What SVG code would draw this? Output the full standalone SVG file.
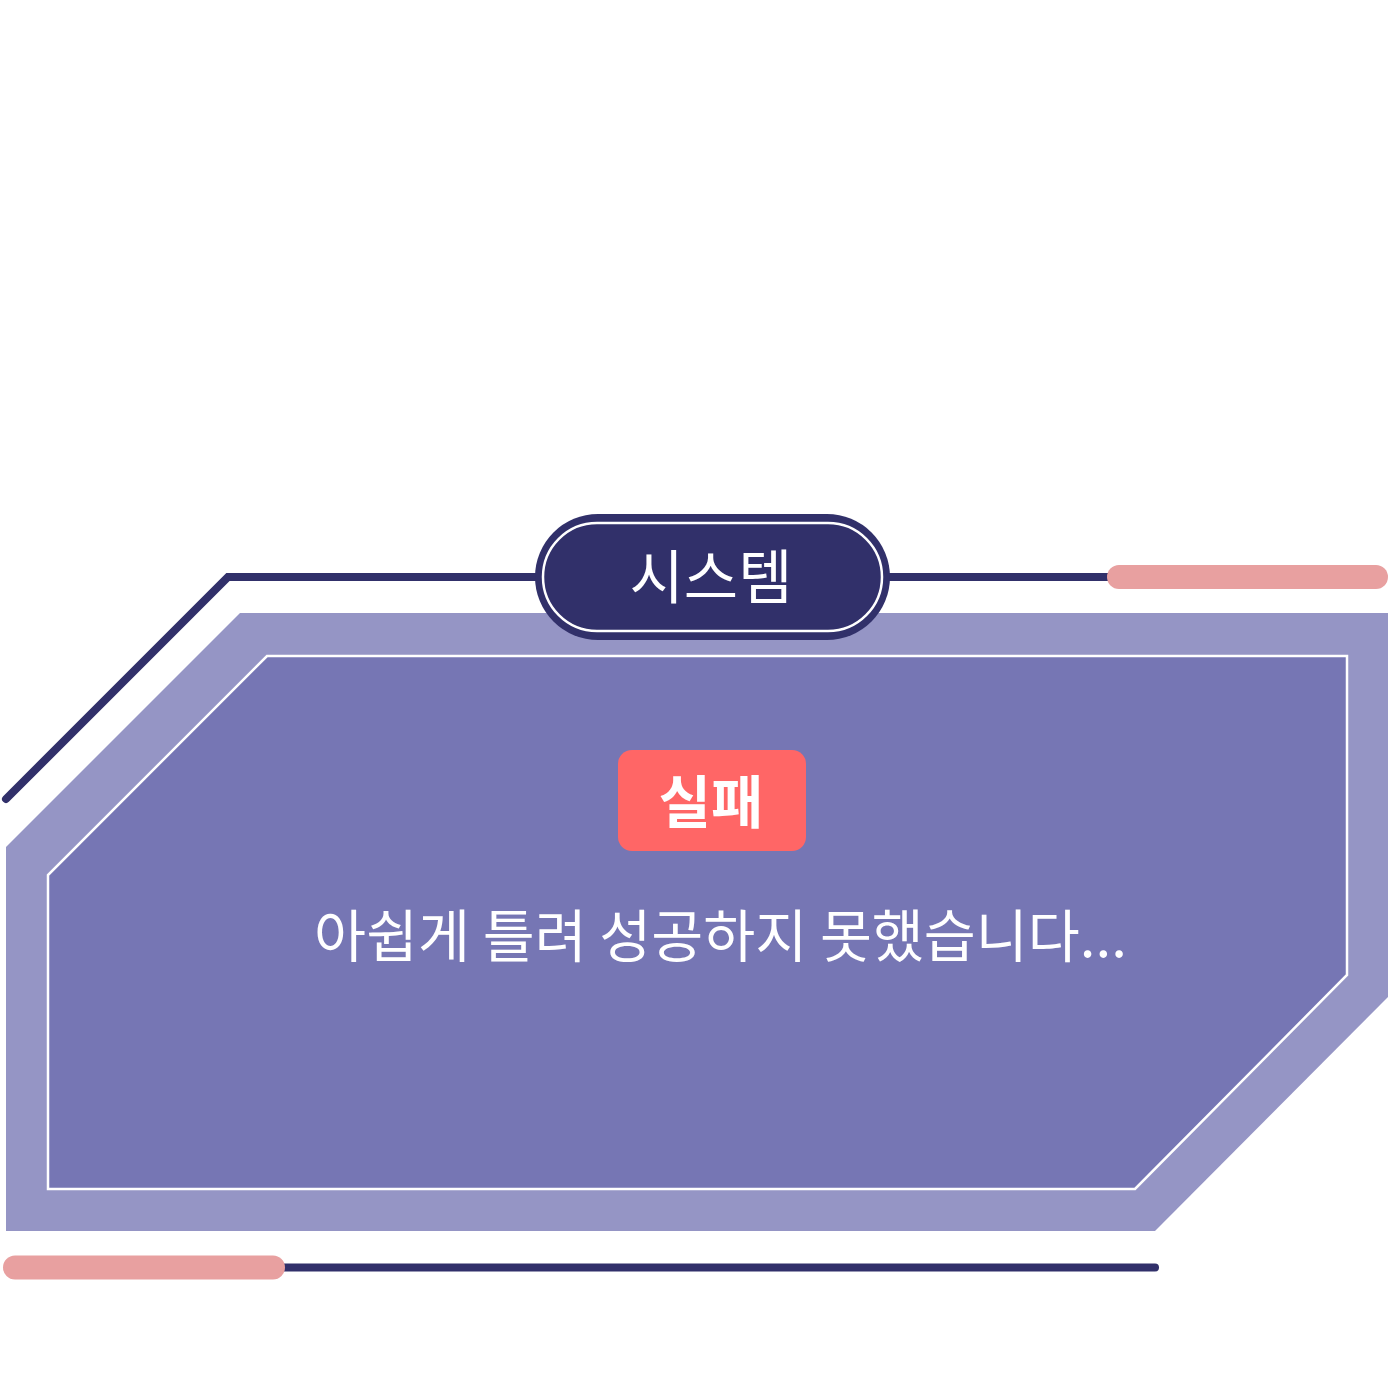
<svg xmlns="http://www.w3.org/2000/svg" width="1388" height="1377" viewBox="0 0 1388 1377">
<style>
.dark{stroke:#31306a;stroke-width:8;fill:none;stroke-linecap:round;stroke-linejoin:miter}
.pink{stroke:#e8a0a0;stroke-width:24;stroke-linecap:round;fill:none}
.txt{font-family:"Noto Sans CJK KR","Noto Sans",sans-serif;fill:#ffffff;text-anchor:middle;dominant-baseline:central}
</style>
<rect width="1388" height="1377" fill="#ffffff"/>
<g id="decor">
<polyline class="dark" points="6,799 228,577 1120,577"/>
<line class="pink" x1="1119" y1="577" x2="1376" y2="577"/>
<line class="dark" x1="280" y1="1267.5" x2="1155" y2="1267.5"/>
<line class="pink" x1="15" y1="1267.5" x2="273" y2="1267.5"/>
</g>
<g id="panel">
<polygon points="240,613 1388,613 1388,997 1155,1231 6,1231 6,847" fill="#9595c5"/>
<polygon points="267,656 1347,656 1347,975 1135,1189 48,1189 48,875" fill="#7676b4" stroke="#ffffff" stroke-width="2.5"/>
</g>
<g id="header">
<rect x="535" y="514" width="355" height="126" rx="63" fill="#31306a"/>
<rect x="543" y="523" width="339" height="108" rx="54" fill="none" stroke="#ffffff" stroke-width="2.5"/>
<text class="txt" x="711" y="573" font-size="59">시스템</text>
</g>
<g id="badge">
<rect x="618" y="750" width="188" height="101" rx="14" fill="#ff6666"/>
<text class="txt" x="711" y="798" font-size="57" font-weight="bold">실패</text>
</g>
<g id="message">
<text class="txt" x="720.5" y="932" font-size="56.5">아쉽게 틀려 성공하지 못했습니다...</text>
</g>
</svg>
